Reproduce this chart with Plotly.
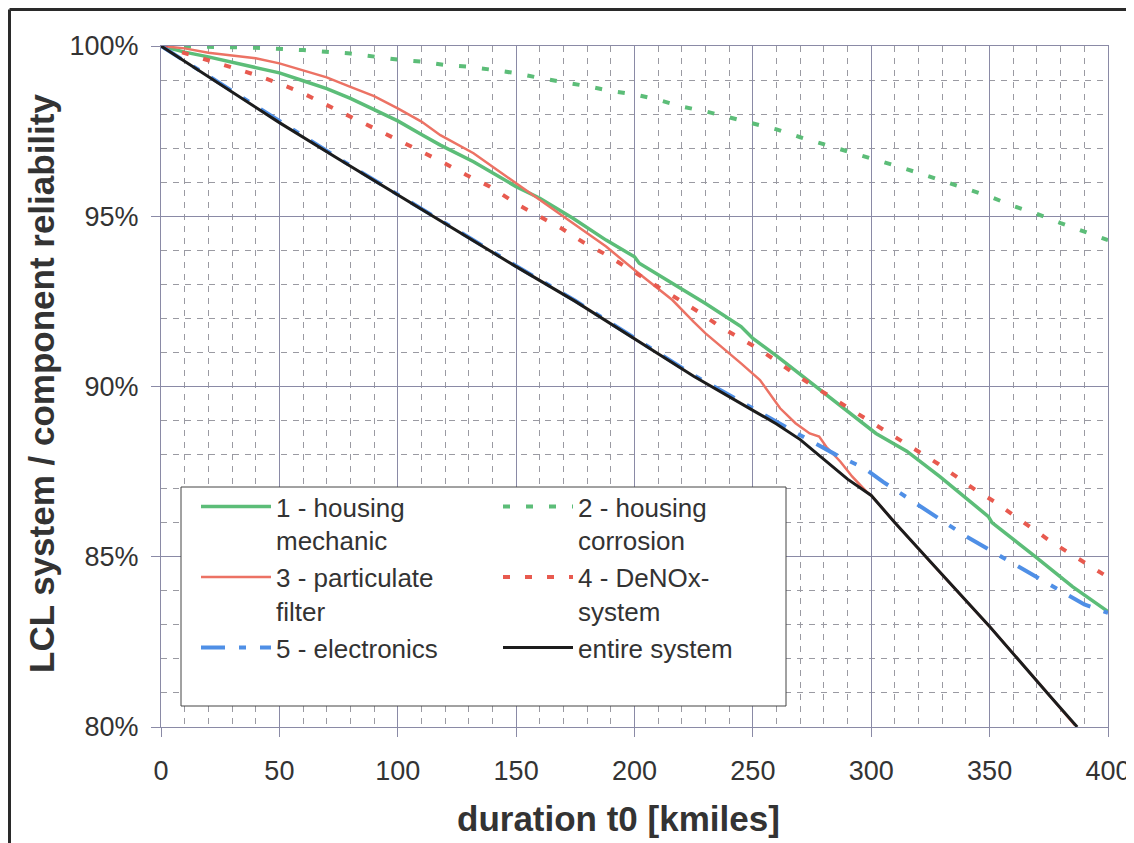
import plotly.graph_objects as go

# ---------------- data ----------------
mech_x = [0, 10, 20, 30, 40, 50, 60, 70, 80, 90, 100, 110, 118, 132, 150, 160, 174, 188, 200, 202,
          216, 230, 245, 250, 260, 273, 285, 299.5, 302, 315, 329, 349.5, 351, 368.5, 385, 400]
mech_y = [100, 99.82, 99.68, 99.53, 99.37, 99.21, 98.98, 98.75, 98.46, 98.14, 97.8, 97.4, 97.09, 96.6,
          95.87, 95.53, 94.94, 94.3, 93.81, 93.62, 93.03, 92.44, 91.76, 91.41, 90.9, 90.19, 89.55,
          88.77, 88.62, 88.1, 87.35, 86.18, 86.0, 85.05, 84.12, 83.39]

corr_x = [0, 20, 40, 60, 80, 100, 110, 120, 130, 140, 150, 160, 170, 180, 190, 200, 210, 220, 230, 240,
          250, 260, 270, 280, 290, 300, 310, 320, 330, 340, 350, 360, 370, 380, 390, 400]
corr_y = [100, 99.98, 99.95, 99.88, 99.78, 99.6, 99.54, 99.44, 99.39, 99.3, 99.2, 99.06, 98.95, 98.82,
          98.68, 98.58, 98.42, 98.22, 98.08, 97.9, 97.73, 97.55, 97.32, 97.12, 96.92, 96.72, 96.49,
          96.27, 96.05, 95.81, 95.58, 95.3, 95.07, 94.8, 94.56, 94.3]

pf_x = [0, 10, 20, 30, 40, 50, 60, 70, 80, 90, 100, 110, 118, 124, 132, 150, 160, 174, 188, 200, 211,
        216, 225, 230, 245, 253, 261.5, 268, 274, 278, 281, 287, 292, 298, 300, 310, 325, 350, 375, 386]
pf_y = [100, 99.93, 99.8, 99.73, 99.64, 99.49, 99.28, 99.08, 98.8, 98.53, 98.17, 97.78, 97.38, 97.15,
        96.85, 95.97, 95.48, 94.79, 94.11, 93.42, 92.83, 92.54, 91.9, 91.56, 90.68, 90.19, 89.36, 88.92,
        88.62, 88.53, 88.23, 87.79, 87.35, 86.91, 86.8, 86.0, 84.85, 82.95, 80.95, 80.05]

denox_x = [0, 10, 20, 30, 40, 50, 60, 70, 80, 90, 100, 110, 120, 129, 139, 147, 151, 160, 169, 178, 187,
           195, 202, 211, 219, 228, 236, 245, 252, 260, 268, 277, 285, 294, 301, 310, 319, 328, 336, 344,
           352, 360, 368, 376, 385, 394, 400]
denox_y = [100, 99.8, 99.57, 99.37, 99.15, 98.9, 98.61, 98.27, 97.92, 97.61, 97.24, 96.9, 96.55, 96.21,
           95.87, 95.53, 95.33, 94.99, 94.65, 94.25, 93.91, 93.57, 93.28, 92.88, 92.54, 92.15, 91.76,
           91.41, 91.12, 90.75, 90.35, 89.95, 89.6, 89.21, 88.92, 88.53, 88.13, 87.74, 87.35, 86.96,
           86.62, 86.23, 85.83, 85.44, 85.05, 84.66, 84.4]

elec_x = [0, 25, 50, 75, 100, 125, 150, 175, 200, 225, 240, 250, 260, 270, 285, 297, 305, 318, 330, 340,
          355, 365, 378, 390, 400]
elec_y = [100, 98.9, 97.77, 96.7, 95.64, 94.58, 93.54, 92.52, 91.42, 90.33, 89.75, 89.35, 88.97, 88.57,
          88.0, 87.6, 87.2, 86.6, 86.05, 85.6, 85.0, 84.6, 84.1, 83.6, 83.35]

sys_x = [0, 25, 50, 75, 100, 125, 150, 175, 200, 225, 250, 260, 270, 280, 290, 300, 310, 325, 350, 375, 387]
sys_y = [100, 98.88, 97.75, 96.68, 95.62, 94.56, 93.52, 92.5, 91.4, 90.3, 89.3, 88.9, 88.44, 87.86,
         87.28, 86.8, 86.0, 84.85, 82.95, 80.95, 80.0]

x_ticks = [0, 50, 100, 150, 200, 250, 300, 350, 400]
y_ticks = [80, 85, 90, 95, 100]

# ---------------- figure ----------------
# The page body has an 8px margin, so the figure starts at (8, 8) in the window.
OFF = 8
W, H = 1134, 843
PL, PR, PT, PB = 161, 1108, 46, 727          # wanted plot area, window pixels
L, T = PL - OFF, PT - OFF
R = W - (PR - OFF)
B = H - (PB - OFF)
PW, PH = PR - PL, PB - PT


def px_x(p):  # window pixel -> paper x
    return (p - PL) / PW


def px_y(p):  # window pixel -> paper y
    return (PB - p) / PH


FONT = "Liberation Sans, Arial, sans-serif"
GREEN = "#5cbd78"
RED = "#ec7264"
RED_D = "#e85a4f"
BLUE = "#4f8fe6"
BLACK = "#1c1c1c"

fig = go.Figure()
fig.add_trace(go.Scatter(x=mech_x, y=mech_y, mode="lines", name="1 - housing<br>mechanic",
                         line=dict(color=GREEN, width=3.5), legend="legend", legendgroup="g1"))
fig.add_trace(go.Scatter(x=corr_x, y=corr_y, mode="lines", name="2 - housing<br>corrosion",
                         line=dict(color=GREEN, width=4, dash="7px,16px"), legend="legend2", legendgroup="g2"))
fig.add_trace(go.Scatter(x=pf_x, y=pf_y, mode="lines", name="3 - particulate<br>filter",
                         line=dict(color=RED, width=2.5), legend="legend", legendgroup="g3"))
fig.add_trace(go.Scatter(x=denox_x, y=denox_y, mode="lines", name="4 - DeNOx-<br>system",
                         line=dict(color=RED_D, width=4, dash="7px,15px"), legend="legend2", legendgroup="g4"))
fig.add_trace(go.Scatter(x=elec_x, y=elec_y, mode="lines", name="5 - electronics",
                         line=dict(color=BLUE, width=4, dash="24px,14px,7px,14px"), legend="legend",
                         legendgroup="g5"))
fig.add_trace(go.Scatter(x=sys_x, y=sys_y, mode="lines", name="entire system",
                         line=dict(color=BLACK, width=3), legend="legend2", legendgroup="g6"))

MAJOR = "#8a8aa6"
MINOR = "#9a9aa2"

fig.update_xaxes(range=[0, 400], tickvals=x_ticks, ticktext=[str(v) for v in x_ticks],
                 showgrid=True, gridcolor=MAJOR, gridwidth=1,
                 minor=dict(dtick=10, showgrid=True, gridcolor=MINOR, griddash="6px,6px", gridwidth=1),
                 showline=True, linecolor=MAJOR, linewidth=1, mirror=True,
                 ticks="outside", ticklen=9, tickcolor=MAJOR,
                 tickfont=dict(family=FONT, size=27, color="#333333"),
                 ticklabelstandoff=11, zeroline=False, fixedrange=True)
fig.update_yaxes(range=[80, 100], tickvals=y_ticks, ticktext=[f"{v}%" for v in y_ticks],
                 showgrid=True, gridcolor=MAJOR, gridwidth=1,
                 minor=dict(dtick=1, showgrid=True, gridcolor=MINOR, griddash="6px,6px", gridwidth=1),
                 showline=True, linecolor=MAJOR, linewidth=1, mirror=True,
                 ticks="outside", ticklen=9, tickcolor=MAJOR,
                 tickfont=dict(family=FONT, size=27, color="#333333"),
                 ticklabelstandoff=7, zeroline=False, fixedrange=True)

legend_common = dict(bgcolor="rgba(0,0,0,0)", borderwidth=0, orientation="v",
                     font=dict(family=FONT, size=26, color="#333333"),
                     itemwidth=70, valign="top", tracegroupgap=0,
                     xanchor="left", yanchor="top", itemclick=False, itemdoubleclick=False)

fig.update_layout(
    width=W, height=H,
    margin=dict(l=L, r=R, t=T, b=B, autoexpand=False),
    paper_bgcolor="white", plot_bgcolor="white",
    showlegend=True,
    legend=dict(x=px_x(196), y=px_y(483), **legend_common),
    legend2=dict(x=px_x(498), y=px_y(483), **legend_common),
    font=dict(family=FONT, color="#333333"),
)

# legend frame (white box with thin dark border, under the legend texts)
fig.add_shape(type="rect", xref="paper", yref="paper",
              x0=px_x(181), x1=px_x(786), y0=px_y(706), y1=px_y(487),
              line=dict(color="#444444", width=1), fillcolor="white", layer="above")

# outer frame (top and left edges of the picture)
fig.add_shape(type="line", xref="paper", yref="paper",
              x0=px_x(9.5), x1=px_x(1150), y0=px_y(9.5), y1=px_y(9.5),
              line=dict(color="#2a2a2a", width=3))
fig.add_shape(type="line", xref="paper", yref="paper",
              x0=px_x(9.5), x1=px_x(9.5), y0=px_y(9.5), y1=px_y(860),
              line=dict(color="#2a2a2a", width=3))

# axis titles
fig.add_annotation(text="<b>duration t0 [kmiles]</b>", xref="paper", yref="paper",
                   x=px_x(618), y=px_y(818), xanchor="center", yanchor="middle", showarrow=False,
                   font=dict(family=FONT, size=35, color="#333333"))
fig.add_annotation(text="<b>LCL system / component reliability</b>", xref="paper", yref="paper",
                   x=px_x(41), y=px_y(384), xanchor="center", yanchor="middle", showarrow=False,
                   textangle=-90, font=dict(family=FONT, size=35, color="#333333"))

fig.write_html("out.html")
